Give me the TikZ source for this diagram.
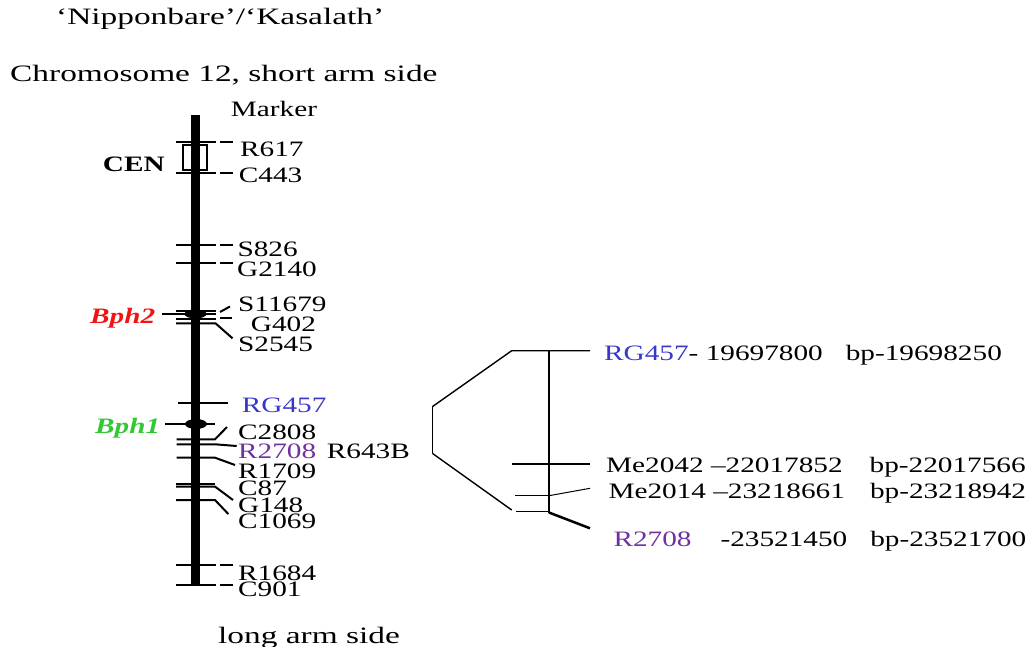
\documentclass[tikz,border=0pt]{standalone}
\usepackage{fontspec}
\setmainfont{Liberation Serif}[FakeStretch=1.33]
\newfontfamily\titlefont{Liberation Serif}[FakeStretch=1.42]
\definecolor{cblue}{RGB}{55,55,200}
\definecolor{cpurple}{RGB}{112,48,160}
\definecolor{cred}{RGB}{240,20,20}
\definecolor{cgreen}{RGB}{50,200,50}
\newcommand\labfont{\fontsize{22}{26}\selectfont}
\newcommand\ttlfont{\titlefont\fontsize{23.5}{28}\selectfont}
\tikzset{
  lab/.style={anchor=base west, inner sep=0pt, font=\labfont},
  ttl/.style={anchor=base west, inner sep=0pt, font=\ttlfont},
  tk/.style={line width=2pt},
  br/.style={line width=1.4pt},
}
\newcommand\dtick[1]{\draw[tk] (176,#1) -- (216,#1); \draw[tk] (220,#1) -- (233,#1);}
\begin{document}
\begin{tikzpicture}[x=1pt,y=-1pt]
\useasboundingbox (0,0) rectangle (1032,647);
% titles
\node[ttl] (t1) at (56,25) {‘Nipponbare’/‘Kasalath’};
\node[ttl] (t2) at (10,81.7) {Chromosome 12, short arm side};
\node[lab] (mk) at (230.7,116.7) {Marker};
\node[ttl] (la) at (218,643) {long arm side};
% CEN box
\draw[line width=1.5pt] (183,145) rectangle (207,170);
% chromosome bar
\draw[line width=9.5pt] (195.5,115) -- (195.5,586);
% ticks with dashes
\dtick{142}
\dtick{172.7}
\dtick{245}
\dtick{262.7}
\dtick{565}
\dtick{585}
% Bph2 region
\fill (195.5,314) ellipse [x radius=11, y radius=4.5];
\draw[tk] (176,310.5) -- (216,310.5);
\draw[tk] (162,314) -- (216,314);
\draw[tk] (176,319) -- (216,319);
\draw[tk] (176,323.3) -- (215.5,323.3) -- (232.5,338.3);
\draw[tk] (220,312) -- (230,306.5);
\draw[tk] (220,317.6) -- (232,317.6);
% RG457 / Bph1 region
\draw[tk] (178,403.3) -- (228,403.3);
\fill (196,424) ellipse [x radius=11, y radius=5];
\draw[tk] (165,424) -- (215,424);
\draw[tk] (176.7,439.3) -- (215,439.3) -- (227,427);
\draw[tk] (176.7,444.3) -- (215,444.3) -- (236.7,446);
\draw[tk] (176.7,457.7) -- (215,457.7) -- (235,465);
\draw[tk] (176,484) -- (215,484);
\draw[tk] (176,486.6) -- (215,486.6) -- (233,500);
\draw[tk] (176,500) -- (215,500) -- (228.3,514);
% left labels
\node[lab, font=\labfont\bfseries] (cen) at (102.7,171.7) {CEN};
\node[lab, font=\labfont\bfseries\itshape, text=cred] (bph2) at (90,323) {Bph2};
\node[lab, font=\labfont\bfseries\itshape, text=cgreen] (bph1) at (95,433) {Bph1};
% marker labels
\node[lab] (r617) at (240,156.7) {R617};
\node[lab] (c443) at (238.7,182.7) {C443};
\node[lab] (s826) at (237.3,256.7) {S826};
\node[lab] (g2140) at (237,276) {G2140};
\node[lab] (s11679) at (238,311.7) {S11679};
\node[lab] (g402) at (250.7,331.7) {G402};
\node[lab] (s2545) at (238,351.7) {S2545};
\node[lab, text=cblue] (rg457) at (241.7,412) {RG457};
\node[lab] (c2808) at (238,439) {C2808};
\node[lab, text=cpurple] (r2708) at (238,458) {R2708};
\node[lab] (r643b) at (326.7,458) {R643B};
\node[lab] (r1709) at (238,478) {R1709};
\node[lab] (c87) at (238,495) {C87};
\node[lab] (g148) at (238,512) {G148};
\node[lab] (c1069) at (238,528) {C1069};
\node[lab] (r1684) at (238,580) {R1684};
\node[lab] (c901) at (238,596.7) {C901};
% right bracket
\coordinate (b1) at (432.3,406.7);
\coordinate (b2) at (432.3,453.3);
\coordinate (tl) at (511.7,350.7);
\coordinate (tr) at (590,350.7);
\coordinate (vt) at (549,350.7);
\coordinate (vb) at (549,512.7);
\coordinate (bl) at (511.7,510);
\draw[br] (b1) -- (b2);
\draw[br] (b1) -- (tl) -- (tr);
\draw[br] (b2) -- (bl);
\draw[br] (vt) -- (vb);
\draw[br] (511.7,464) -- (590,464);
\draw[br] (515,495.7) -- (549,495.7);
\draw[line width=1pt] (549,495.7) -- (590,488.3);
\draw[br] (516,511.7) -- (549,511.7);
\draw[line width=2.5pt] (549,512.5) -- (590,528.3);
% right labels
\node[lab] (l1) at (604,360) {\textcolor{cblue}{RG457}- 19697800\hspace{23pt}bp-19698250};
\node[lab] (l2) at (606,472.7) {Me2042 –22017852\hspace{27pt}bp-22017566};
\node[lab] (l3) at (608.3,498.3) {Me2014 –23218661\hspace{25pt}bp-23218942};
\node[lab] (l4) at (613.3,546.7) {\textcolor{cpurple}{R2708}\hspace{29pt}-23521450\hspace{23pt}bp-23521700};
\end{tikzpicture}
\end{document}
